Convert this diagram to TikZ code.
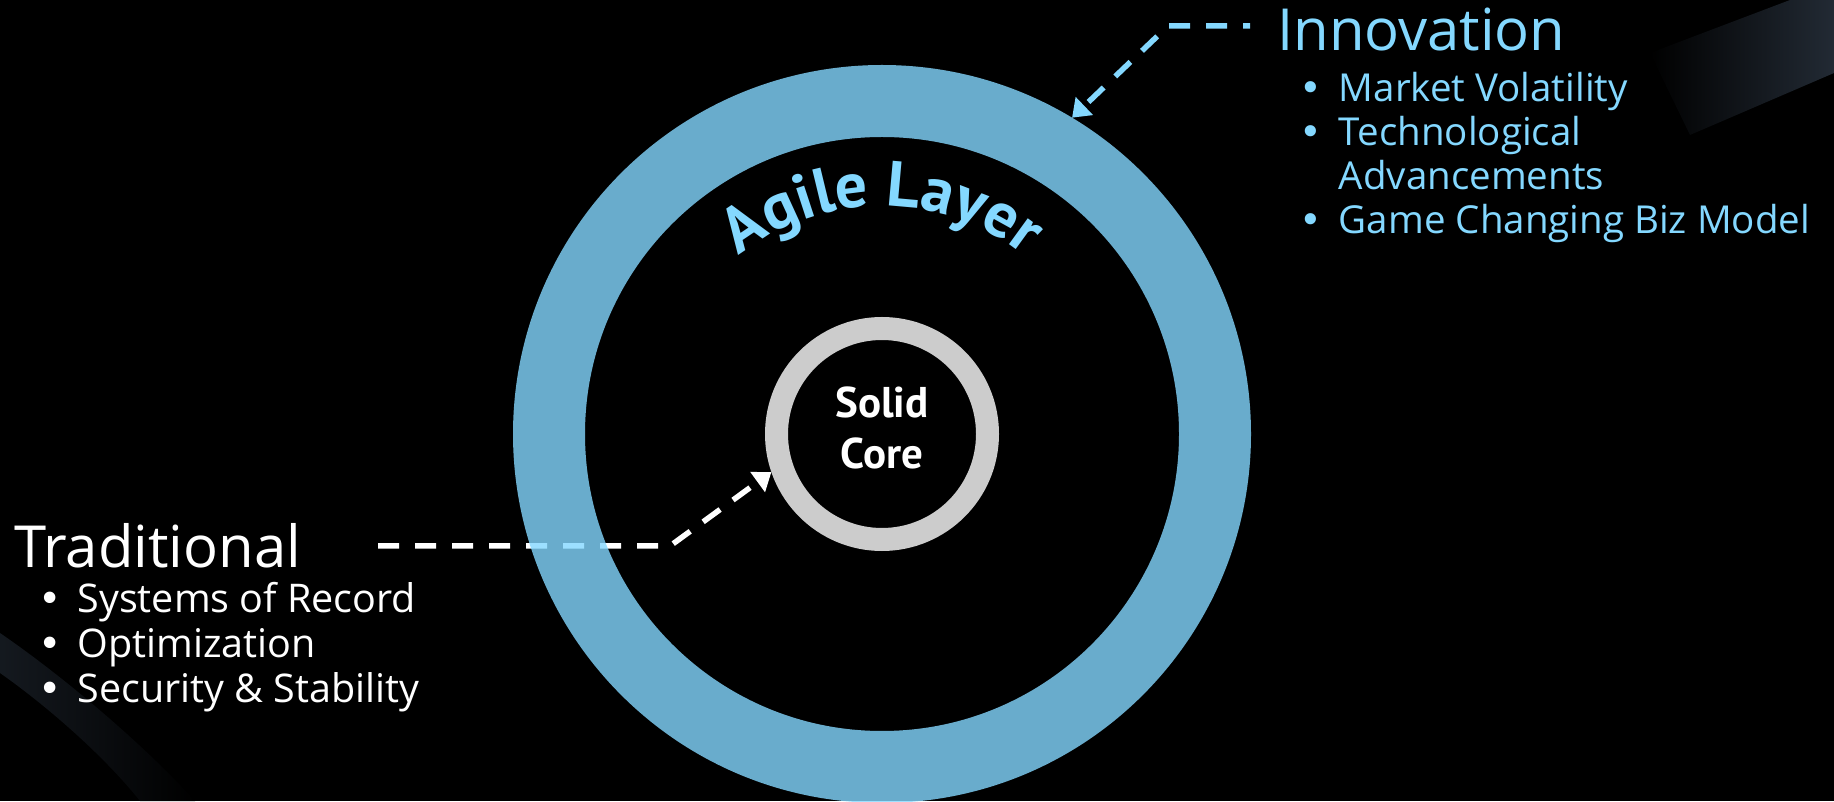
\documentclass[tikz,border=0pt]{standalone}
\usepackage{fontspec}
\setmainfont{Open Sans}
\newfontfamily\ptsans{PT Sans}
\newfontfamily\dejavu{DejaVu Sans}
\usetikzlibrary{arrows.meta,decorations.text}
\definecolor{agileblue}{RGB}{132,216,255}
\definecolor{coregray}{RGB}{204,204,204}
\definecolor{streak}{RGB}{34,42,52}
\newcommand{\agilefont}{\ptsans\bfseries\fontsize{64}{70}\selectfont}
\newcommand{\listdot}{{\dejavu\textbullet}}

\begin{document}
\begin{tikzpicture}
[
x=1pt, y=1pt,
headtext/.style={anchor=base west, inner sep=0pt, font=\fontsize{58}{62}\selectfont},
listtext/.style={anchor=base west, inner sep=0pt, font=\fontsize{38.5}{#1}\selectfont},
ringnode/.style={circle, inner sep=0pt, minimum size=#1},
dasharrow/.style={line width=5.5pt, dash pattern=on 21pt off 16pt, -{Triangle[length=17pt,width=24pt]}}
]

\useasboundingbox (0,0) rectangle (1834,801);
\fill[black] (0,0) rectangle (1834,801);
\shade[left color=black, right color=streak] (1650,748) -- (1790,801) -- (1834,801) -- (1834,728) -- (1690,666) -- cycle;
\shade[left color=streak!60!black, right color=black] (0,168) .. controls (70,120) and (150,50) .. (195,0) -- (140,0) .. controls (100,50) and (40,100) .. (0,128) -- cycle;

\node[ringnode=211pt, draw=coregray, line width=23pt] (core) at (882,367) {};
\node[font=\ptsans\bfseries\fontsize{43}{51}\selectfont, text=white, align=center] (corelabel) at ([yshift=6pt]core.center) {Solid\\Core};

\coordinate (tradstart) at (378,255);
\coordinate (tradbend) at (670,255);
\draw[dasharrow, white] (tradstart) -- (tradbend) -- (core.199);

\node[ringnode=666pt, draw=agileblue, draw opacity=0.8, line width=72pt] (agile) at (882,367) {};
\path[decorate, decoration={text along path, text align=center, text color=agileblue, text={|\agilefont|Agile Layer}}]
  ([shift={(135:228)}]agile.center) arc[start angle=135, end angle=45, radius=228];

\coordinate (innoend) at (1250,775);
\coordinate (innobend) at (1168,775);
\draw[dasharrow, agileblue, dash phase=14pt] (innoend) -- (innobend) -- (agile.59);

\node[headtext, text=agileblue] (innovation) at (1277,750) {Innovation};
\node[listtext=43.7pt, text=agileblue] (innolist) at (1299,699) {\begin{tabular}[t]{@{}l@{\hspace{17pt}}l@{}}
\listdot & Market Volatility\\
\listdot & Technological\\
 & Advancements\\
\listdot & Game Changing Biz Model
\end{tabular}};

\node[headtext, text=white] (traditional) at (14,233) {Traditional};
\node[listtext=45pt, text=white, font=\fontsize{39.5}{45}\selectfont] (tradlist) at (38,188) {\begin{tabular}[t]{@{}l@{\hspace{16pt}}l@{}}
\listdot & Systems of Record\\
\listdot & Optimization\\
\listdot & Security \& Stability
\end{tabular}};
\end{tikzpicture}
\end{document}
